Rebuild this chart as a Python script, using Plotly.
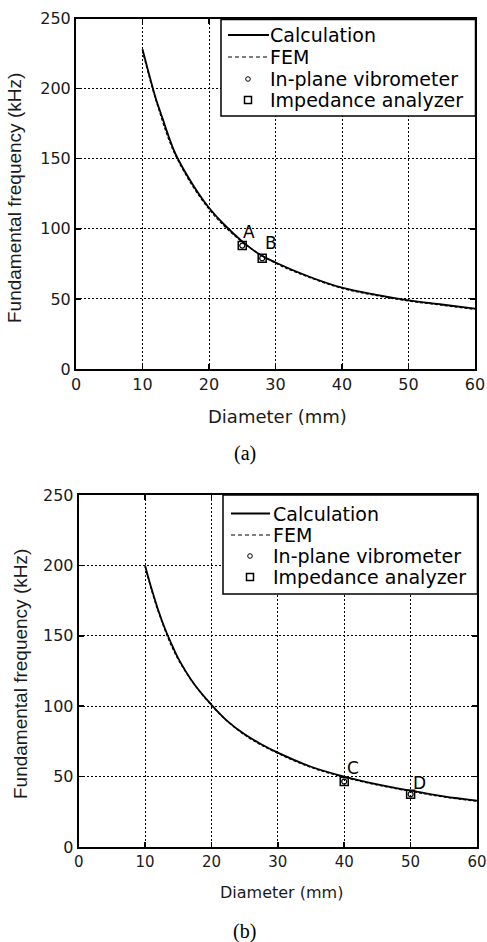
import plotly.graph_objects as go

W, H = 487, 942

# ---------------- data ----------------
# (a)
calc_d_a = [10, 11, 12, 13, 14, 15, 17.5, 20, 22.5, 25, 27.5, 30, 35, 40, 45, 50, 55, 60]
calc_f_a = [228, 210, 193, 179, 165, 153, 132, 115, 102, 91, 82, 76, 66, 58, 53, 49, 46, 43]
fem_d_a = [10, 12, 15, 20, 25, 30, 35, 40, 45, 50, 55, 60]
fem_f_a = [227, 192, 152, 114, 90.5, 75.5, 65.5, 57.5, 52.5, 48.5, 45.5, 42.5]
vib_d_a = [25, 28]
vib_f_a = [88, 79]
imp_d_a = [25, 28]
imp_f_a = [88, 79]
labels_a = ["A", "B"]

# (b)
calc_d_b = [10, 11, 12, 13, 14, 15, 17.5, 20, 22.5, 25, 27.5, 30, 35, 40, 45, 50, 55, 60]
calc_f_b = [200, 183, 168, 155, 144, 134, 115, 101, 89, 80, 73, 67, 57, 50, 44.5, 40, 36, 33]
fem_d_b = [10, 12, 15, 20, 25, 30, 35, 40, 45, 50, 55, 60]
fem_f_b = [199, 167, 133, 100.5, 79.5, 66.5, 56.5, 49.5, 44, 39.5, 35.5, 32.5]
vib_d_b = [40, 50]
vib_f_b = [46.5, 37.5]
imp_d_b = [40, 50]
imp_f_b = [46.5, 37.5]
labels_b = ["C", "D"]

series_names = ["Calculation", "FEM", "In-plane vibrometer", "Impedance analyzer"]
x_ticks = [0, 10, 20, 30, 40, 50, 60]
y_ticks = [0, 50, 100, 150, 200, 250]

FONT = "DejaVu Sans"
ARIAL = "Liberation Sans, Arial"


def px_x(p):
    return p / W


def px_y(p):
    return 1 - p / H


fig = go.Figure()


def add_panel(d_c, f_c, d_f, f_f, d_v, f_v, d_i, f_i, xa, ya):
    fig.add_trace(go.Scatter(x=d_c, y=f_c, mode="lines", name=series_names[0],
                             line=dict(color="black", width=1.8, shape="spline"),
                             xaxis=xa, yaxis=ya, showlegend=False))
    fig.add_trace(go.Scatter(x=d_f, y=f_f, mode="lines", name=series_names[1],
                             line=dict(color="black", width=1.2, dash="3px,2px", shape="spline"),
                             xaxis=xa, yaxis=ya, showlegend=False))
    fig.add_trace(go.Scatter(x=d_v, y=f_v, mode="markers", name=series_names[2],
                             marker=dict(symbol="circle-open", size=5, color="black",
                                         line=dict(width=1.2, color="black")),
                             xaxis=xa, yaxis=ya, showlegend=False))
    fig.add_trace(go.Scatter(x=d_i, y=f_i, mode="markers", name=series_names[3],
                             marker=dict(symbol="square-open", size=8, color="black",
                                         line=dict(width=1.5, color="black")),
                             xaxis=xa, yaxis=ya, showlegend=False))


add_panel(calc_d_a, calc_f_a, fem_d_a, fem_f_a, vib_d_a, vib_f_a, imp_d_a, imp_f_a, "x", "y")
add_panel(calc_d_b, calc_f_b, fem_d_b, fem_f_b, vib_d_b, vib_f_b, imp_d_b, imp_f_b, "x2", "y2")

axis_common = dict(
    showline=True, linecolor="black", linewidth=2, mirror="ticks",
    ticks="inside", ticklen=5, tickwidth=1.5, tickcolor="black",
    showgrid=True, gridcolor="black", gridwidth=1, griddash="2px,2px",
    zeroline=False, tickfont=dict(family=FONT, size=16, color="#1a1a1a"),
    fixedrange=True, automargin=False,
)

fig.update_layout(
    width=W, height=H,
    margin=dict(l=0, r=0, t=0, b=0, autoexpand=False),
    paper_bgcolor="white", plot_bgcolor="white",
    showlegend=False,
    xaxis=dict(axis_common, domain=[px_x(76), px_x(475)], range=[0, 60],
               tickvals=x_ticks, anchor="y"),
    yaxis=dict(axis_common, domain=[px_y(369), px_y(18.5)], range=[0, 250],
               tickvals=y_ticks, anchor="x"),
    xaxis2=dict(axis_common, domain=[px_x(78.7), px_x(477)], range=[0, 60],
                tickvals=x_ticks, anchor="y2",
                tickfont=dict(family=FONT, size=15, color="#1a1a1a")),
    yaxis2=dict(axis_common, domain=[px_y(847), px_y(495)], range=[0, 250],
                tickvals=y_ticks, anchor="x2"),
)

annotations = []
shapes = []

# point labels
offs_a = [(7, 14), (9, 15)]
for lab, dx, fy, (ox, oy) in zip(labels_a, imp_d_a, imp_f_a, offs_a):
    annotations.append(dict(x=dx, y=fy, xref="x", yref="y", text=lab, showarrow=False,
                            xshift=ox, yshift=oy,
                            font=dict(family=FONT, size=17, color="black")))
offs_b = [(9, 14), (9, 11)]
for lab, dx, fy, (ox, oy) in zip(labels_b, imp_d_b, imp_f_b, offs_b):
    annotations.append(dict(x=dx, y=fy, xref="x2", yref="y2", text=lab, showarrow=False,
                            xshift=ox, yshift=oy,
                            font=dict(family=FONT, size=17, color="black")))


# legend boxes (drawn)
def draw_legend(box, rows, sample_x0, sample_x1, marker_x, text_x, fsize):
    x0, y0, x1, y1 = box
    shapes.append(dict(type="rect", xref="paper", yref="paper", layer="above",
                       x0=px_x(x0), x1=px_x(x1), y0=px_y(y1), y1=px_y(y0),
                       fillcolor="white", line=dict(color="black", width=1.5)))
    shapes.append(dict(type="line", xref="paper", yref="paper", layer="above",
                       x0=px_x(sample_x0), x1=px_x(sample_x1), y0=px_y(rows[0]), y1=px_y(rows[0]),
                       line=dict(color="black", width=1.8)))
    shapes.append(dict(type="line", xref="paper", yref="paper", layer="above",
                       x0=px_x(sample_x0), x1=px_x(sample_x1), y0=px_y(rows[1]), y1=px_y(rows[1]),
                       line=dict(color="black", width=1.2, dash="4px,3px")))
    r = 2.3
    shapes.append(dict(type="circle", xref="paper", yref="paper", layer="above",
                       x0=px_x(marker_x - r), x1=px_x(marker_x + r),
                       y0=px_y(rows[2] + r), y1=px_y(rows[2] - r),
                       line=dict(color="black", width=1), fillcolor="white"))
    s = 3.5
    shapes.append(dict(type="rect", xref="paper", yref="paper", layer="above",
                       x0=px_x(marker_x - s), x1=px_x(marker_x + s),
                       y0=px_y(rows[3] + s), y1=px_y(rows[3] - s),
                       line=dict(color="black", width=1.5), fillcolor="white"))
    for name, ry in zip(series_names, rows):
        annotations.append(dict(x=px_x(text_x), y=px_y(ry), xref="paper", yref="paper",
                                text=name, showarrow=False, xanchor="left", yanchor="middle",
                                font=dict(family=FONT, size=fsize, color="black")))


draw_legend((221, 19.5, 475.5, 116), [35, 57, 79, 100], 228, 269, 248, 268, 19)
draw_legend((223, 495, 477.5, 594), [513.5, 535, 556, 577], 231, 270, 250, 271, 19)

# axis titles and captions
annotations += [
    dict(x=px_x(277), y=px_y(416), xref="paper", yref="paper", text="Diameter (mm)",
         showarrow=False, xanchor="center", yanchor="middle",
         font=dict(family=FONT, size=18, color="#1a1a1a")),
    dict(x=px_x(15), y=px_y(198), xref="paper", yref="paper", text="Fundamental frequency (kHz)",
         showarrow=False, xanchor="center", yanchor="middle", textangle=-90,
         font=dict(family=ARIAL, size=19, color="#1a1a1a")),
    dict(x=px_x(281), y=px_y(892), xref="paper", yref="paper", text="Diameter (mm)",
         showarrow=False, xanchor="center", yanchor="middle",
         font=dict(family=FONT, size=16, color="#1a1a1a")),
    dict(x=px_x(20), y=px_y(674), xref="paper", yref="paper", text="Fundamental frequency (kHz)",
         showarrow=False, xanchor="center", yanchor="middle", textangle=-90,
         font=dict(family=ARIAL, size=19, color="#1a1a1a")),
    dict(x=px_x(245), y=px_y(453), xref="paper", yref="paper", text="(a)",
         showarrow=False, xanchor="center", yanchor="middle",
         font=dict(family="Liberation Serif, Times New Roman", size=20, color="black")),
    dict(x=px_x(245), y=px_y(931), xref="paper", yref="paper", text="(b)",
         showarrow=False, xanchor="center", yanchor="middle",
         font=dict(family="Liberation Serif, Times New Roman", size=20, color="black")),
]
fig.update_layout(annotations=annotations, shapes=shapes)

# remove the default 8px page margin so the figure sits at the window's origin
fig.write_html(
    "out.html",
    config={"displayModeBar": False, "staticPlot": True},
    post_script="document.body.style.margin='0px';document.body.style.overflow='hidden';",
)
